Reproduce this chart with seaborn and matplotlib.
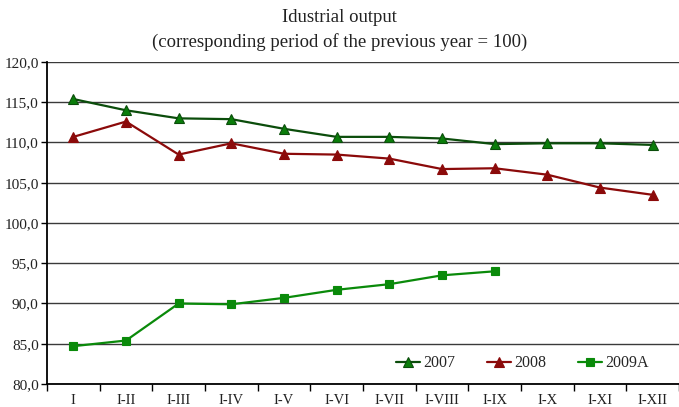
import matplotlib
matplotlib.use("Agg")
import matplotlib.pyplot as plt
import matplotlib.ticker as mticker
import seaborn as sns
import pandas as pd
import numpy as np

periods = ["I", "I-II", "I-III", "I-IV", "I-V", "I-VI", "I-VII", "I-VIII", "I-IX", "I-X", "I-XI", "I-XII"]
y2007 = [115.4, 114.0, 113.0, 112.9, 111.7, 110.7, 110.7, 110.5, 109.8, 109.9, 109.9, 109.7]
y2008 = [110.7, 112.6, 108.5, 109.9, 108.6, 108.5, 108.0, 106.7, 106.8, 106.0, 104.4, 103.5]
y2009 = [84.7, 85.4, 90.0, 89.9, 90.7, 91.7, 92.4, 93.5, 94.0]
yticks = [80, 85, 90, 95, 100, 105, 110, 115, 120]

sns.set_theme(style="white")
plt.rcParams['font.family'] = ['Liberation Serif', 'DejaVu Serif']

fig = plt.figure(figsize=(6.79, 4.07), dpi=100)
ax = fig.add_axes([47/679, 1 - 384/407, 1 - 47/679, (384 - 62)/407])

series = [
    ("2007", y2007, "#0b4d0b", "#0a7d0a", "^"),
    ("2008", y2008, "#8b0a0a", "#8b0a0a", "^"),
    ("2009A", y2009, "#0a8a0a", "#0a8a0a", "s"),
]
for name, vals, lc, fc, mk in series:
    df = pd.DataFrame({"x": np.arange(len(vals)), "y": vals})
    sns.lineplot(data=df, x="x", y="y", ax=ax, color=lc, linewidth=1.6,
                 marker=mk, markersize=6.5 if mk == "^" else 6,
                 markerfacecolor=fc, markeredgecolor=lc, markeredgewidth=0.8,
                 label=name)

ax.set_xlim(-0.5, len(periods) - 0.5)
ax.set_ylim(80, 120)
ax.set_yticks(yticks)
ax.yaxis.set_major_formatter(mticker.FuncFormatter(lambda v, p: f"{v:.1f}".replace(".", ",")))
ax.set_xticks(np.arange(len(periods)))
ax.set_xticklabels(periods)
ax.set_xticks(np.arange(len(periods) + 1) - 0.5, minor=True)
ax.tick_params(axis="x", which="major", length=0, pad=7, labelsize=10.5, colors="#222222")
ax.tick_params(axis="x", which="minor", length=5, width=1, color="black", direction="out", bottom=True)
ax.tick_params(axis="y", which="major", length=4, width=1, color="black", direction="out", left=True, labelsize=11, labelcolor="#222222", pad=2)
ax.set_xlabel("")
ax.set_ylabel("")

ax.grid(axis="y", color="#3a3a3a", linewidth=1)
ax.grid(axis="x", visible=False)
for s in ["top", "right"]:
    ax.spines[s].set_visible(False)
for s in ["left", "bottom"]:
    ax.spines[s].set_color("black")
    ax.spines[s].set_linewidth(1.3)

leg = ax.legend(loc="lower right", ncol=3, frameon=False, fontsize=11.5,
                bbox_to_anchor=(0.975, -0.005), handlelength=1.5, handletextpad=0.2,
                columnspacing=2.0)

fig.text(0.5, 1 - 18/407, "Idustrial output", ha="center", va="center", fontsize=13.5, color="#222222")
fig.text(0.5, 1 - 42/407, "(corresponding period of the previous year = 100)", ha="center", va="center", fontsize=13.5, color="#222222")

fig.savefig("out.png", dpi=100)
